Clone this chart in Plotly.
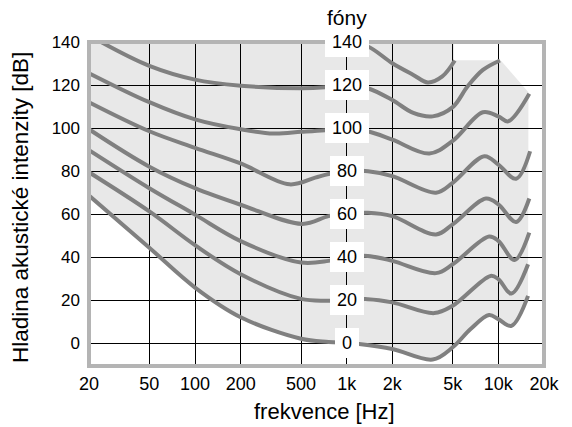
import math
import plotly.graph_objects as go

# ---------------- data ----------------
x_tick_vals = [20, 50, 100, 200, 500, 1000, 2000, 5000, 10000, 20000]
x_tick_text = ["20", "50", "100", "200", "500", "1k", "2k", "5k", "10k", "20k"]
y_tick_vals = [0, 20, 40, 60, 80, 100, 120, 140]
phon_levels = [0, 20, 40, 60, 80, 100, 120, 140]

freq_0 = [20, 50, 100, 200, 500, 760, 1000, 1210, 2000, 3690, 5000, 6560, 8690, 10000, 12200, 15700]
spl_0 = [68.6, 44.3, 25.8, 12, 2, 0.5, 0, -0.5, -2.8, -7.7, -2, 6.5, 13, 11.1, 8, 21.9]

freq_20 = [20, 50, 100, 200, 500, 760, 1000, 1380, 2000, 3780, 5000, 8900, 10000, 12200, 15700]
spl_20 = [79.4, 61.2, 45.5, 32, 20.5, 19.7, 20, 20.4, 18.9, 13.9, 17.3, 31.2, 29.7, 23, 36.6]

freq_40 = [20, 50, 100, 200, 500, 760, 1000, 1380, 2000, 3880, 5000, 8690, 10000, 12800, 16000]
spl_40 = [89.7, 72, 59.7, 47.4, 37.4, 38.2, 40, 40.5, 38.2, 32.5, 36.6, 49.5, 47.5, 38.6, 51.3]

freq_60 = [20, 50, 100, 200, 510, 760, 1000, 1380, 2000, 3880, 5000, 8290, 10000, 13100, 16000]
spl_60 = [99.4, 82, 72, 64.3, 55.4, 59, 60, 60.6, 59, 50.5, 55.2, 67.2, 64.5, 56.3, 67.2]

freq_80 = [20, 50, 100, 200, 420, 620, 760, 1000, 1380, 2000, 3880, 5000, 8100, 10000, 13100, 16200]
spl_80 = [112, 98.5, 90.8, 83.5, 73.8, 76.9, 78.6, 80, 79.9, 77.6, 69.9, 74.5, 86.9, 83, 76.4, 89.2]

freq_100 = [20, 50, 100, 200, 330, 500, 720, 1000, 1380, 2000, 3510, 5000, 7910, 10000, 11600, 16000]
spl_100 = [125.5, 112, 104, 99.4, 97.4, 98.2, 99, 100, 98.5, 94.6, 88.1, 94, 107.3, 105.4, 103.1, 115.9]

freq_120 = [24, 50, 100, 200, 500, 720, 1000, 1380, 2000, 2750, 3690, 5000, 6260, 7910, 10250]
spl_120 = [140, 128.9, 122.5, 119.7, 118.5, 118.9, 120, 118.5, 113, 107, 105.4, 109.7, 119.3, 127, 131.4]

freq_140 = [1000, 1380, 2000, 2750, 3430, 4270, 5160]
spl_140 = [140, 137.9, 130.1, 124.7, 121.2, 124, 131.4]

# upper edge of the light grey area (audible region)
fill_top_freq = [20, 5100, 5100, 10350, 15800]
fill_top_spl = [140, 140, 131.5, 131.5, 116.6]

# ---------------- styles ----------------
CURVE = "#808080"
FILL = "rgba(0,0,0,0.09)"
BORDER = "#b4b4b4"
FONT = "Liberation Sans, Arial, sans-serif"
LW = 4

curves = [
    (freq_20, spl_20), (freq_40, spl_40), (freq_60, spl_60), (freq_80, spl_80),
    (freq_100, spl_100), (freq_120, spl_120), (freq_140, spl_140),
]

fig = go.Figure()
fig.add_trace(go.Scatter(x=fill_top_freq, y=fill_top_spl, mode="lines",
                         line=dict(width=0), hoverinfo="skip", showlegend=False))
fig.add_trace(go.Scatter(x=freq_0, y=spl_0, mode="lines", fill="tonexty", fillcolor=FILL,
                         line=dict(color=CURVE, width=LW, shape="spline"), showlegend=False))
for fx, fy in curves:
    fig.add_trace(go.Scatter(x=fx, y=fy, mode="lines",
                             line=dict(color=CURVE, width=LW, shape="spline"), showlegend=False))

annotations = []
for lv in phon_levels:
    t = str(lv)
    annotations.append(dict(x=math.log10(1000), y=lv, xref="x", yref="y", text=t,
                            showarrow=False, bgcolor="white", borderpad=0, borderwidth=0,
                            width=14 + 10 * len(t), height=30,
                            font=dict(size=18, color="black", family=FONT)))
annotations.append(dict(x=math.log10(1000), y=1.077, xref="x", yref="paper", text="fóny",
                        showarrow=False, yanchor="middle",
                        font=dict(size=21, color="black", family=FONT)))
annotations.append(dict(x=0.518, y=-0.141, xref="paper", yref="paper", text="frekvence [Hz]",
                        showarrow=False, yanchor="middle", xanchor="center",
                        font=dict(size=22, color="black", family=FONT)))
annotations.append(dict(x=-0.149, y=0.488, xref="paper", yref="paper",
                        text="Hladina akustické intenzity [dB]", textangle=-90,
                        showarrow=False, yanchor="middle", xanchor="center",
                        font=dict(size=22.5, color="black", family=FONT)))

fig.update_layout(
    width=572, height=427,
    margin=dict(l=89, r=16, t=42, b=61),
    paper_bgcolor="white", plot_bgcolor="white",
    font=dict(family=FONT, color="black"),
    showlegend=False,
    annotations=annotations,
    shapes=[dict(type="rect", xref="paper", yref="paper", x0=0, x1=1, y0=0, y1=1,
                 line=dict(color=BORDER, width=4), layer="above")],
    xaxis=dict(type="log", range=[math.log10(20), math.log10(20000)],
               tickvals=x_tick_vals, ticktext=x_tick_text, ticks="",
               showgrid=True, gridcolor="black", gridwidth=1, zeroline=False,
               showline=False, tickfont=dict(size=18, color="black"),
               ticklabelstandoff=5),
    yaxis=dict(range=[-10.7, 140], tickvals=y_tick_vals, ticks="",
               showgrid=True, gridcolor="black", gridwidth=1, zeroline=False,
               showline=False, tickfont=dict(size=17, color="black"),
               ticklabelstandoff=8),
)

fig.write_html("out.html", config={"displayModeBar": False},
               post_script="document.body.style.margin='0';")
